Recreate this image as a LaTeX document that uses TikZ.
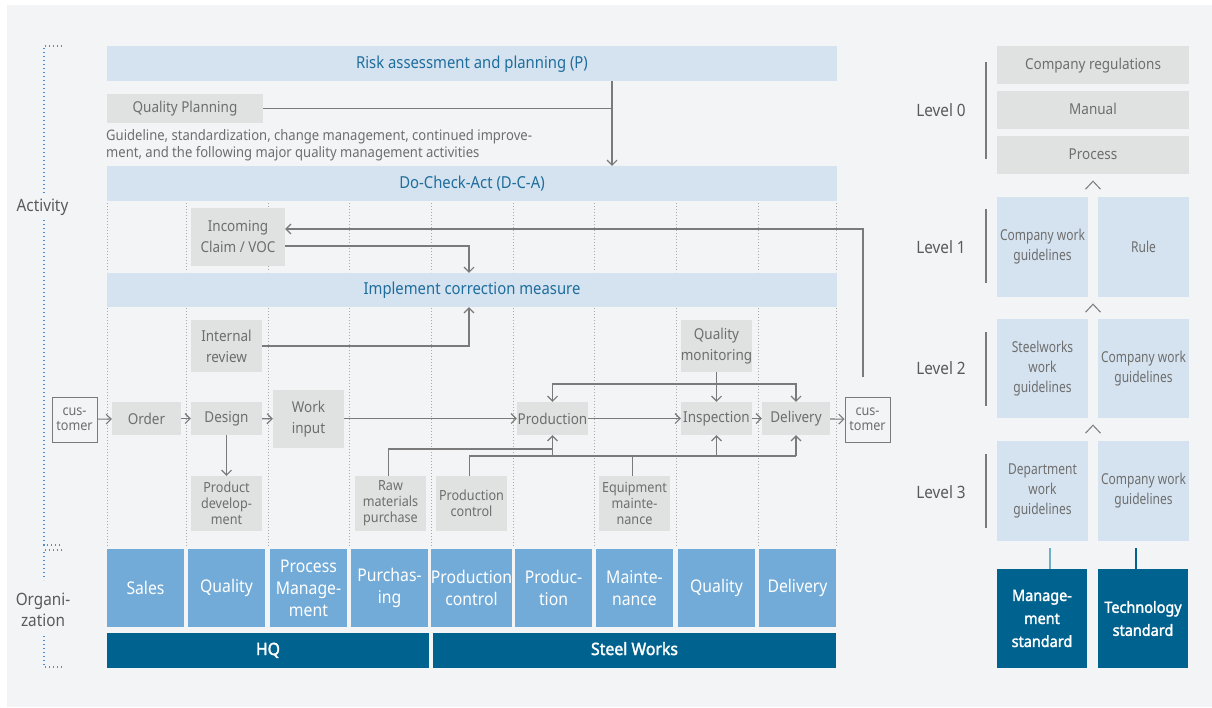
\documentclass[tikz,border=0pt]{standalone}
\usepackage{fontspec}
\setmainfont{Noto Sans}[FakeStretch=0.9]
\newfontfamily\narrowfont{Noto Sans}[FakeStretch=0.8]
\newfontfamily\heavyfont{Noto Sans}[FakeStretch=0.93, FakeBold=2]
\usetikzlibrary{arrows.meta,calc}

\definecolor{panel}{HTML}{F3F4F6}
\definecolor{barblue}{HTML}{D5E3F0}
\definecolor{bartext}{HTML}{1E6D9C}
\definecolor{boxgray}{HTML}{E0E1E1}
\definecolor{txtgray}{HTML}{6E6E6E}
\definecolor{labelgray}{HTML}{5A5A5A}
\definecolor{linegray}{HTML}{7A7A7A}
\definecolor{orgblue}{HTML}{72ABD8}
\definecolor{darkblue}{HTML}{00628F}
\definecolor{axisblue}{HTML}{4A90D0}
\definecolor{sepgray}{HTML}{A8A8A8}
\definecolor{stdlight}{HTML}{6FB0C9}

\begin{document}
\begin{tikzpicture}[x=1pt, y=-1pt,
  gbox/.style={fill=boxgray, text=txtgray, inner sep=0pt, align=center,
    font=\fontsize{15}{21}\selectfont},
  sbox/.style={gbox, font=\fontsize{14}{16}\selectfont},
  bar/.style={fill=barblue, text=bartext, inner sep=0pt, minimum width=730pt,
    minimum height=35pt, text height=11pt, text depth=2pt, font=\fontsize{16.5}{20}\selectfont},
  cust/.style={draw=linegray, line width=1pt, fill=panel, text=txtgray, inner sep=0pt,
    align=center, minimum width=45pt, minimum height=45pt,
    font=\fontsize{14}{15}\selectfont},
  org/.style={fill=orgblue, text=white, inner sep=0pt, align=center,
    minimum width=77pt, minimum height=78pt, font=\fontsize{17.5}{22}\selectfont},
  unit/.style={fill=darkblue, text=white, inner sep=0pt, minimum height=35pt,
    text height=11pt, text depth=2pt, font=\heavyfont\fontsize{17}{20}\selectfont},
  conn/.style={draw=linegray, line width=1.1pt},
  arr/.style={conn, -{Straight Barb[length=5pt,width=10pt]}},
  sep/.style={draw=sepgray, line width=0.9pt, dash pattern=on 1pt off 2pt},
  axis/.style={draw=axisblue, line width=1.2pt, dash pattern=on 1.2pt off 2.8pt},
  side/.style={text=labelgray, align=center, font=\fontsize{17}{21}\selectfont},
  docgray/.style={fill=boxgray, text=txtgray, inner sep=0pt, minimum width=192pt,
    minimum height=38pt, text height=10pt, text depth=2pt, font=\fontsize{15}{18}\selectfont},
  docblue/.style={fill=barblue, text=txtgray, inner sep=0pt, align=center,
    minimum width=91pt, minimum height=100pt, font=\narrowfont\fontsize{15}{20}\selectfont},
  std/.style={fill=darkblue, text=white, inner sep=0pt, align=center,
    minimum width=90pt, minimum height=99pt, font=\heavyfont\fontsize{15.5}{23}\selectfont},
  lvl/.style={text=labelgray, font=\fontsize{17}{20}\selectfont},
  bracket/.style={draw=linegray, line width=1.1pt},
  caret/.style={draw=linegray, line width=1pt}
]
\useasboundingbox (0,0) rectangle (1212,707);
\fill[white] (0,0) rectangle (1212,707);
\fill[panel] (7,5) rectangle (1212,707);

% ---- axis brackets on the left
\draw[axis] (62,46) -- (44,46) -- (44,195);
\node[side] (activity) at (42.5,207) {Activity};
\draw[axis] (44,220) -- (44,545) -- (62,545);
\draw[axis] (62,550) -- (44,550) -- (44,580);
\node[side] (organization) at (43,610) {Organi-\\zation};
\draw[axis] (44,636) -- (44,667) -- (62,667);

% ---- column separators
\foreach \cx in {107,186,268,349,431,513,594,676,758,836}{
  \draw[sep] (\cx,203) -- (\cx,272);
  \draw[sep] (\cx,308) -- (\cx,546);
}

% ---- planning and D-C-A bars
\node[bar] (risk) at (472,63.5) {Risk assessment and planning (P)};
\node[gbox, minimum width=156pt, minimum height=29pt, text height=10pt, text depth=2pt] (qp) at (185,108.5) {Quality Planning};
\node[anchor=north west, inner sep=0pt, align=left, text=txtgray,
  font=\fontsize{14.5}{17}\selectfont] (guide) at (106,129)
  {Guideline, standardization, change management, continued improve-\\
   ment, and the following major quality management activities};
\node[bar] (dca) at (472,183.5) {Do-Check-Act (D-C-A)};
\node[bar, minimum height=34pt] (impl) at (472,290) {Implement correction measure};

\coordinate (px) at (612,0);
\draw[arr] (risk.south -| px) -- (dca.north -| px);
\draw[conn] (qp.east) -- (qp.east -| px);

% ---- claims and reviews
\node[gbox, minimum width=94pt, minimum height=58pt] (claim) at (238,237) {Incoming\\Claim / VOC};
\node[gbox, minimum width=71pt, minimum height=52pt] (review) at (226.5,346) {Internal\\review};
\node[gbox, minimum width=71pt, minimum height=52pt] (qm) at (716.5,346) {Quality\\monitoring};

\coordinate (ix) at (469,0);
\coordinate (loopend) at (863,377);
\draw[arr] (loopend) |- ([yshift=8pt]claim.east);
\draw[arr] ([yshift=-9pt]claim.east) -| (impl.north -| ix);
\draw[arr] (review.east) -| (impl.south -| ix);

% ---- main process chain
\node[cust] (custL) at (74.5,419.5) {cus-\\tomer};
\node[gbox, minimum width=69pt, minimum height=33pt] (order) at (146.5,418.5) {Order};
\node[gbox, minimum width=71pt, minimum height=33pt] (design) at (226.5,418.5) {Design};
\node[gbox, minimum width=71pt, minimum height=58pt] (work) at (308.5,419) {Work\\input};
\node[gbox, minimum width=71pt, minimum height=33pt] (prod) at (552.5,418.5) {Production};
\node[gbox, minimum width=71pt, minimum height=33pt] (insp) at (716.5,418.5) {Inspection};
\node[gbox, minimum width=68pt, minimum height=33pt] (deliv) at (796,418.5) {Delivery};
\node[cust] (custR) at (867.5,419.5) {cus-\\tomer};

\draw[arr] (custL) -- (order);
\draw[arr] (order) -- (design);
\draw[arr] (design) -- (work);
\draw[arr] (work.east |- prod.west) -- (prod.west);
\draw[arr] (prod) -- (insp);
\draw[arr] (insp) -- (deliv);
\draw[arr] (deliv) -- (custR);
\draw[arr] (qm) -- (insp);

% ---- supporting activities
\node[sbox, minimum width=71pt, minimum height=55pt] (pdev) at (226.5,503.5) {Product\\develop-\\ment};
\node[sbox, minimum width=71pt, minimum height=55pt] (raw) at (390.5,503.5) {Raw\\materials\\purchase};
\node[sbox, minimum width=71pt, minimum height=55pt] (pctl) at (471.5,503.5) {Production\\control};
\node[sbox, minimum width=71pt, minimum height=55pt] (equip) at (634.5,503.5) {Equipment\\mainte-\\nance};

\draw[arr] (design) -- (pdev);

\coordinate (feedback) at (0,384);
\draw[conn, {Straight Barb[length=5pt,width=10pt]}-{Straight Barb[length=5pt,width=10pt]}]
  (prod.north) |- (deliv.north |- feedback) -- (deliv.north);

\coordinate (rawlevel) at (0,449);
\coordinate (supply) at (0,456);
\draw[conn] ([xshift=-2pt]raw.north) |- (prod.south |- rawlevel);
\draw[conn] ([xshift=-2pt]pctl.north) |- (deliv.south |- supply);
\draw[conn] ([xshift=-2pt]equip.north) -- ([xshift=-2pt]equip.north |- supply);
\draw[arr] (prod.south |- supply) -- (prod.south);
\draw[arr] (insp.south |- supply) -- (insp.south);
\draw[arr] (deliv.south |- supply) -- (deliv.south);

% ---- organization
\node[org] (o1) at (145.5,588) {Sales};
\node[org] (o2) at (226.5,588) {Quality};
\node[org] (o3) at (308.5,588) {Process\\Manage-\\ment};
\node[org] (o4) at (389.5,588) {Purchas-\\ing};
\node[org] (o5) at (471.5,588) {Production\\control};
\node[org] (o6) at (553.5,588) {Produc-\\tion};
\node[org] (o7) at (634.5,588) {Mainte-\\nance};
\node[org] (o8) at (716.5,588) {Quality};
\node[org] (o9) at (797.5,588) {Delivery};
\node[unit, minimum width=322pt] (hq) at (268,650.5) {HQ};
\node[unit, minimum width=403pt] (sw) at (634.5,650.5) {Steel Works};

% ---- document levels
\node[docgray] (creg) at (1093,65) {Company regulations};
\node[docgray] (manual) at (1093,110) {Manual};
\node[docgray] (process) at (1093,155) {Process};

\node[docblue] (l1a) at (1042.5,247) {Company work\\guidelines};
\node[docblue] (l1b) at (1143.5,247) {Rule};
\node[docblue, minimum height=99pt] (l2a) at (1042.5,368.5) {Steelworks\\work\\guidelines};
\node[docblue, minimum height=99pt] (l2b) at (1143.5,368.5) {Company work\\guidelines};
\node[docblue] (l3a) at (1042.5,491) {Department\\work\\guidelines};
\node[docblue] (l3b) at (1143.5,491) {Company work\\guidelines};

\node[std] (mstd) at (1042,618.5) {Manage-\\ment\\standard};
\node[std] (tstd) at (1143,618.5) {Technology\\standard};

\draw[stdlight, line width=1.4pt] ([xshift=8pt]mstd.north) -- ++(0,-21);
\draw[darkblue, line width=1.4pt] ([xshift=-7pt]tstd.north) -- ++(0,-21);

\node[lvl] (lv0) at (941,110) {Level 0};
\node[lvl] (lv1) at (941,247) {Level 1};
\node[lvl] (lv2) at (941,368) {Level 2};
\node[lvl] (lv3) at (941,492) {Level 3};
\draw[bracket] (986,62) -- (986,159);
\draw[bracket] (986,209) -- (986,283);
\draw[bracket] (986,332) -- (986,406);
\draw[bracket] (986,454) -- (986,528);

\coordinate (c1) at (process.south);
\coordinate (c2) at ($(l1a.south east)!0.5!(l1b.south west)$);
\coordinate (c3) at ($(l2a.south east)!0.5!(l2b.south west)$);
\foreach \c in {c1,c2,c3}{
  \draw[caret] ([xshift=-7.5pt,yshift=-15pt]\c) -- ([yshift=-7pt]\c) -- ([xshift=7.5pt,yshift=-15pt]\c);
}
\end{tikzpicture}
\end{document}
